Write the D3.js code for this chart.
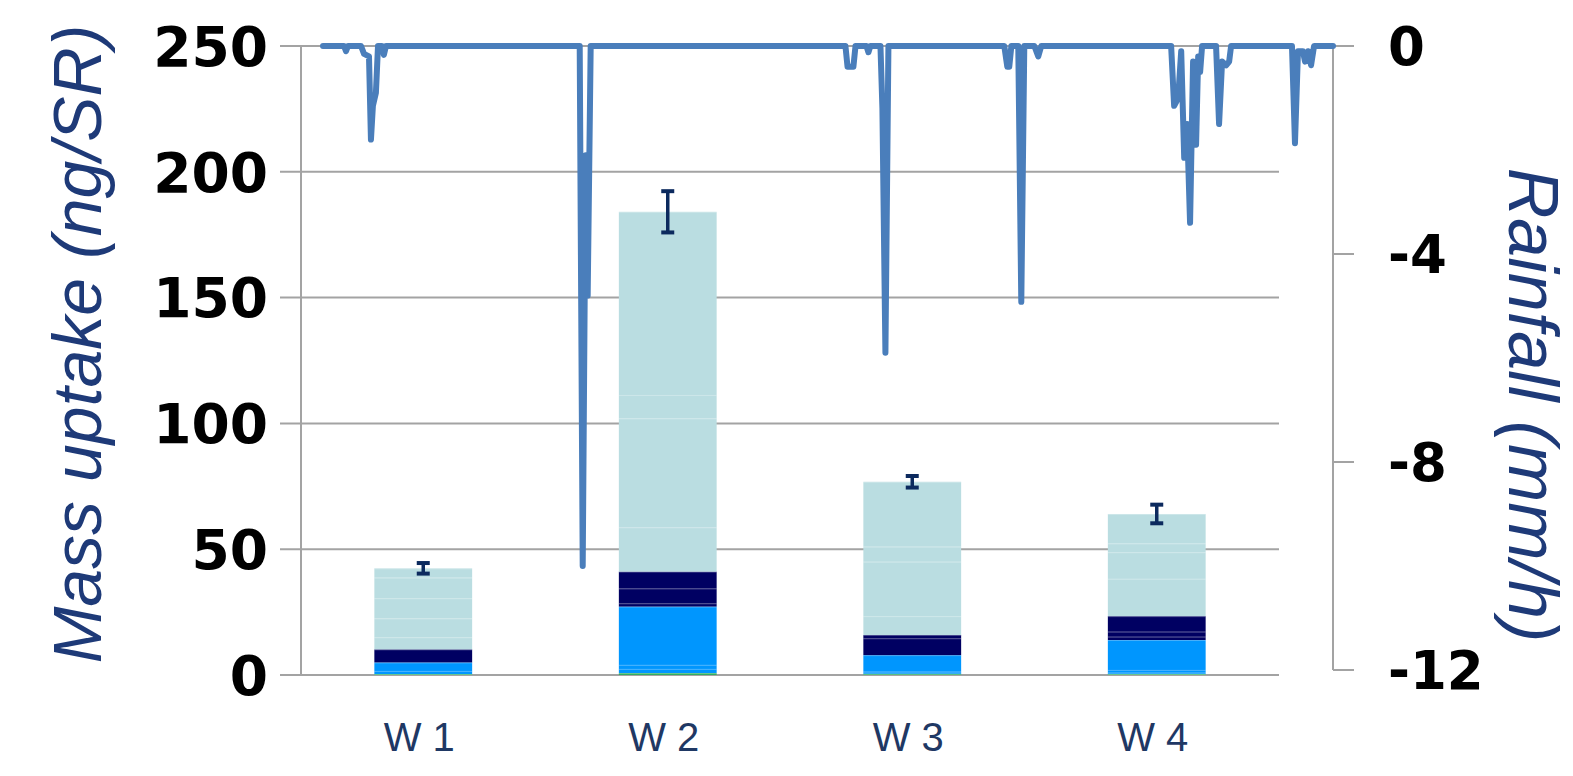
<!DOCTYPE html>
<html>
<head>
<meta charset="utf-8">
<script src="https://cdn.jsdelivr.net/npm/d3@7"></script>
<style>
  html, body { margin: 0; padding: 0; background: #ffffff; }
  svg { display: block; }
</style>
</head>
<body>
<svg id="chart" width="1573" height="776"></svg>
<script>
// Wells on the category axis
const wells = ["W 1", "W 2", "W 3", "W 4"];

// Stacked mass uptake per well (ng/SR), bottom layer first
const layerKeys = ["g1", "b1", "b2", "b3", "n1", "n2", "n3", "l1", "l2", "l3", "l4", "l5"];
const layerGroup = ["green", "blue", "blue", "blue", "navy", "navy", "navy", "light", "light", "light", "light", "light"];
const g1 = [0.4, 0.8, 0.5, 0.4];
const b1 = [1.2, 1.6, 0.8, 0.5];
const b2 = [0.0, 1.6, 0.0, 1.1];
const b3 = [3.4, 23.2, 6.6, 11.9];
const n1 = [5.2, 1.3, 6.7, 1.3];
const n2 = [0.0, 5.9, 1.3, 2.0];
const n3 = [0.0, 6.7, 0.0, 6.2];
const l1 = [4.8, 17.6, 7.5, 14.8];
const l2 = [7.5, 43.3, 21.6, 10.6];
const l3 = [8.0, 9.3, 6.0, 3.5];
const l4 = [8.2, 72.8, 25.8, 11.7];
const l5 = [3.7, 0.0, 0.0, 0.0];

// Error (±) on the total uptake of each well
const totalError = [2.1, 8.2, 2.3, 3.7];

// Axis ticks
const leftTicks = [0, 50, 100, 150, 200, 250];
const rightTicks = [0, -4, -8, -12];

// Rainfall record: hours since start and intensity (mm/h, drawn downward)
const rainHours = [0, 14.0, 15.3, 16.6, 25.3, 27.3, 30.6, 31.9, 33.2, 35.2, 36.6, 39.2, 40.5, 41.9,
  170.8, 172.8, 174.8, 176.1, 178.1,
  347.6, 349.0, 352.9, 354.3, 361.6, 362.9, 364.2, 370.9, 372.2, 374.2, 376.2,
  453.3, 455.3, 456.6, 458.0, 462.6, 464.6, 466.6, 473.3, 475.9, 477.9,
  564.3, 566.3, 569.0, 571.0, 573.0, 574.9, 576.9, 578.9, 580.9, 582.3, 583.6, 584.9,
  594.2, 596.2, 598.2, 600.9, 602.9, 604.2,
  644.7, 646.7, 648.7, 652.0, 653.4, 655.4, 657.4, 659.4, 672];
const rainMm = [0, 0, -0.1, 0, 0, -0.15, -0.2, -1.8, -1.15, -0.9, 0, 0, -0.17, 0,
  0, -10, -2.1, -4.8, 0,
  0, -0.4, -0.4, 0, 0, -0.12, 0, 0, -1.2, -5.9, 0,
  0, -0.4, -0.4, 0, 0, -4.92, 0, 0, -0.2, 0,
  0, -1.15, -1.0, -0.1, -2.15, -1.5, -3.4, -0.3, -1.9, -0.2, -0.5, 0,
  0, -1.5, -0.3, -0.37, -0.3, 0,
  0, -1.87, -0.1, -0.1, -0.3, -0.1, -0.37, 0, 0];

const layerValues = { g1, b1, b2, b3, n1, n2, n3, l1, l2, l3, l4, l5 };
const groupColor = { green: "#2fae64", blue: "#0096fe", navy: "#000062", light: "#badde1" };

const rows = wells.map((w, i) => {
  const r = { well: w };
  layerKeys.forEach(k => { r[k] = layerValues[k][i]; });
  return r;
});
const totals = wells.map((w, i) => d3.sum(layerKeys, k => layerValues[k][i]));

const svg = d3.select("#chart");

const x = d3.scaleBand().domain(wells).range([301, 1279]).paddingInner(0.6).paddingOuter(0.3);
const yL = d3.scaleLinear().domain([0, 250]).range([675, 46]);
const yR = d3.scaleLinear().domain([-12, 0]).range([670, 46]);
const xT = d3.scaleLinear().domain([0, 672]).range([323, 1333]);

const gridColor = "#a3a3a3";

// Horizontal gridlines (extend left as tick marks)
svg.append("g").selectAll("line").data(leftTicks).join("line")
  .attr("x1", 280).attr("x2", 1279)
  .attr("y1", d => yL(d)).attr("y2", d => yL(d))
  .attr("stroke", gridColor).attr("stroke-width", 2);

// Left axis line
svg.append("line").attr("x1", 301).attr("x2", 301)
  .attr("y1", yL(250)).attr("y2", yL(0))
  .attr("stroke", gridColor).attr("stroke-width", 2);

// Right axis line and outward ticks
svg.append("line").attr("x1", 1333).attr("x2", 1333)
  .attr("y1", yR(0)).attr("y2", yR(-12))
  .attr("stroke", gridColor).attr("stroke-width", 2);
svg.append("g").selectAll("line").data(rightTicks).join("line")
  .attr("x1", 1333).attr("x2", 1354)
  .attr("y1", d => yR(d)).attr("y2", d => yR(d))
  .attr("stroke", gridColor).attr("stroke-width", 2);

// Stacked bars
const stack = d3.stack().keys(layerKeys)(rows);
const barG = svg.append("g");
stack.forEach((layer, li) => {
  barG.append("g")
    .attr("fill", groupColor[layerGroup[li]])
    .selectAll("rect").data(layer).join("rect")
    .attr("x", d => x(d.data.well))
    .attr("width", x.bandwidth())
    .attr("y", d => yL(d[1]))
    .attr("height", d => Math.max(0, yL(d[0]) - yL(d[1])));
  // faint seams between compounds sharing a colour
  barG.append("g").selectAll("line").data(layer.filter(d => d[1] - d[0] > 0)).join("line")
    .attr("x1", d => x(d.data.well)).attr("x2", d => x(d.data.well) + x.bandwidth())
    .attr("y1", d => yL(d[1]) + 0.5).attr("y2", d => yL(d[1]) + 0.5)
    .attr("stroke", "rgba(255,255,255,0.28)").attr("stroke-width", 1);
});

// Error bars on the totals
const errColor = "#0c2a5e";
const errG = svg.append("g").attr("stroke", errColor);
wells.forEach((w, i) => {
  const cx = x(w) + x.bandwidth() / 2;
  const hi = yL(totals[i] + totalError[i]);
  const lo = yL(totals[i] - totalError[i]);
  errG.append("line").attr("x1", cx).attr("x2", cx).attr("y1", hi).attr("y2", lo).attr("stroke-width", 3.5);
  errG.append("line").attr("x1", cx - 6.5).attr("x2", cx + 6.5).attr("y1", hi).attr("y2", hi).attr("stroke-width", 4);
  errG.append("line").attr("x1", cx - 6.5).attr("x2", cx + 6.5).attr("y1", lo).attr("y2", lo).attr("stroke-width", 4);
});

// Rainfall line
const rain = rainHours.map((h, i) => [h, rainMm[i]]);
svg.append("path")
  .datum(rain)
  .attr("fill", "none")
  .attr("stroke", "#4a7ebb")
  .attr("stroke-width", 6)
  .attr("stroke-linejoin", "round")
  .attr("stroke-linecap", "round")
  .attr("d", d3.line().x(d => xT(d[0])).y(d => yR(d[1])));

// Tick labels
const tickFont = "'DejaVu Sans', sans-serif";
svg.append("g").selectAll("text").data(leftTicks).join("text")
  .attr("x", 268).attr("y", d => yL(d)).attr("dy", "0.36em")
  .attr("text-anchor", "end")
  .attr("font-family", tickFont).attr("font-weight", "bold").attr("font-size", 55)
  .attr("fill", "#000").text(d => d);
svg.append("g").selectAll("text").data(rightTicks).join("text")
  .attr("x", 1388).attr("y", d => yR(d)).attr("dy", "0.36em")
  .attr("text-anchor", "start")
  .attr("font-family", tickFont).attr("font-weight", "bold").attr("font-size", 53)
  .attr("fill", "#000").text(d => d);

// Category labels
svg.append("g").selectAll("text").data(wells).join("text")
  .attr("x", d => x(d) + x.bandwidth() / 2 - 4).attr("y", 751)
  .attr("text-anchor", "middle")
  .attr("font-family", "'Liberation Sans', Arial, sans-serif").attr("font-size", 40)
  .attr("fill", "#1f3864").text(d => d);

// Axis titles
const titleColor = "#1e3a78";
svg.append("text")
  .attr("transform", "translate(101,344) rotate(-90)")
  .attr("text-anchor", "middle")
  .attr("font-family", "'Liberation Sans', Arial, sans-serif").attr("font-style", "italic").attr("font-size", 68)
  .attr("fill", titleColor).text("Mass uptake (ng/SR)");
svg.append("text")
  .attr("transform", "translate(1509,405) rotate(90)")
  .attr("text-anchor", "middle")
  .attr("font-family", "'Liberation Sans', Arial, sans-serif").attr("font-style", "italic").attr("font-size", 70)
  .attr("fill", titleColor).text("Rainfall (mm/h)");
</script>
</body>
</html>
